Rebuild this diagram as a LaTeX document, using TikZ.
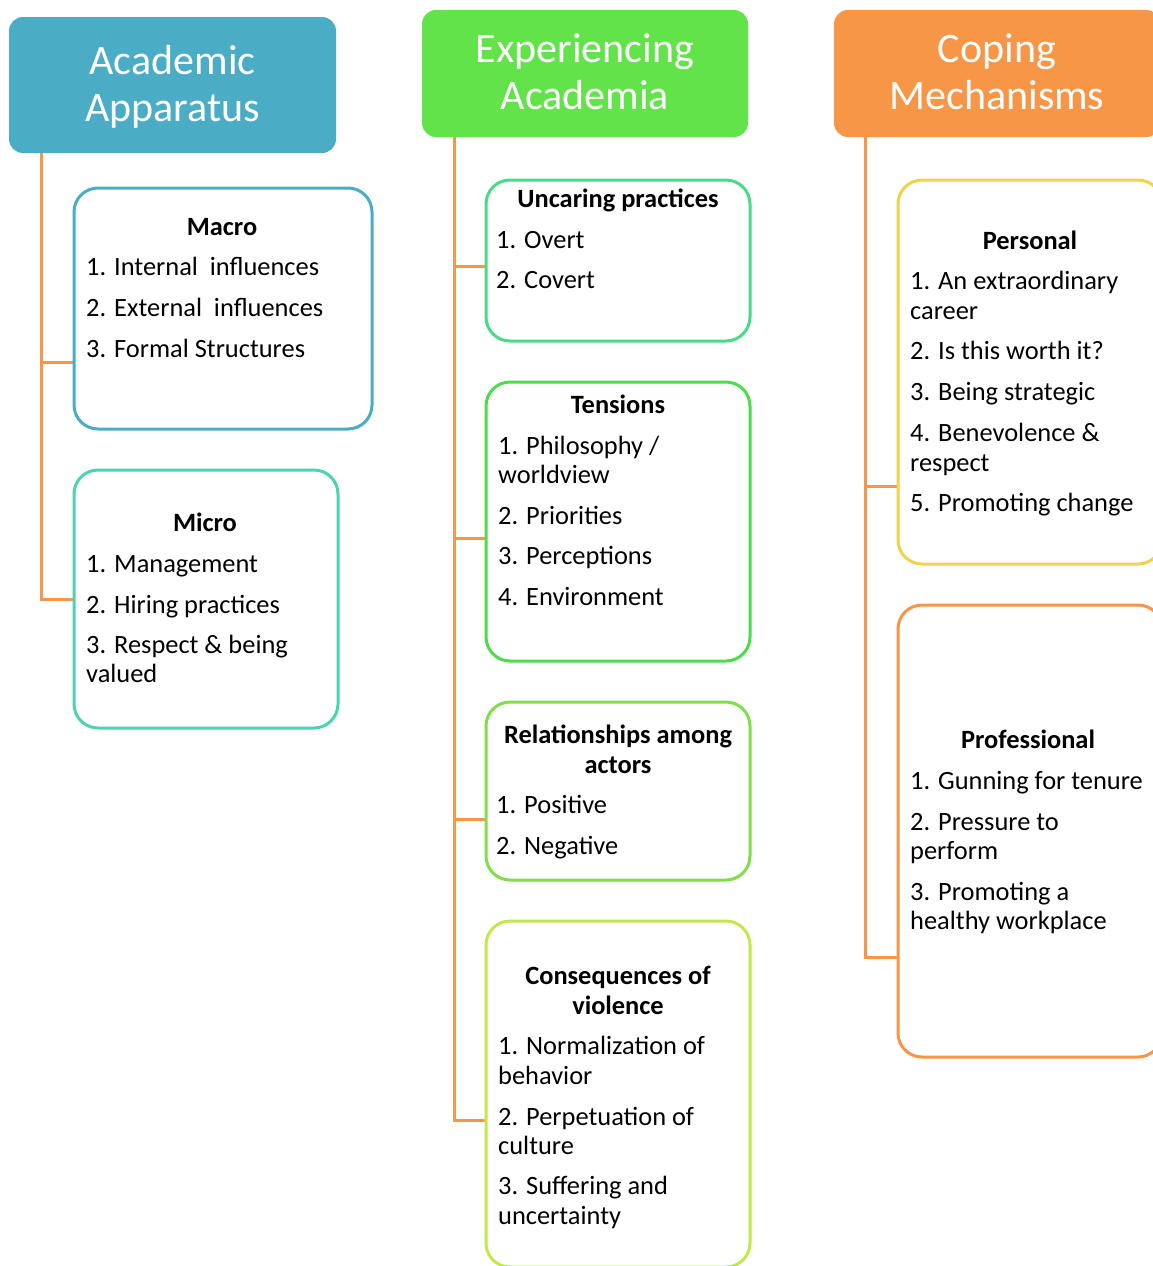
\documentclass[tikz,border=0pt]{standalone}
\usepackage{fontspec}
\setmainfont{Carlito}
\definecolor{cA}{HTML}{4BACC6}
\definecolor{cE}{HTML}{62E34A}
\definecolor{cC}{HTML}{F79646}
\definecolor{cMic}{HTML}{4BD3B4}
\definecolor{cUnc}{HTML}{4BD98A}
\definecolor{cTen}{HTML}{4BDD4B}
\definecolor{cRel}{HTML}{82DD4B}
\definecolor{cCon}{HTML}{C3E84B}
\definecolor{cPer}{HTML}{F2D24B}
\tikzset{
 conn/.style={draw=cC, line width=3pt},
 hdr/.style={rounded corners=14pt, inner sep=0, draw=none},
 box/.style={rounded corners=24pt, line width=3pt, fill=white, inner sep=0},
 hdrtxt/.style={anchor=base, inner sep=0, text=white, font=\fontsize{42}{47}\selectfont},
 ttl/.style={anchor=base, inner sep=0, font=\fontsize{26.4}{29}\selectfont\bfseries},
 itm/.style={anchor=base west, inner sep=0, font=\fontsize{26.4}{29}\selectfont},
}
\begin{document}
\begin{tikzpicture}[x=1pt,y=-1pt]
\useasboundingbox (0,0) rectangle (1153,1266);
\clip (0,0) rectangle (1153,1266);
\fill[white] (0,0) rectangle (1153,1266);

% headers
\node[hdr, fill=cA, minimum width=327pt, minimum height=136pt] (hA) at (172.5,85) {};
\node[hdr, fill=cE, minimum width=326pt, minimum height=127pt] (hE) at (585,73.5) {};
\node[hdr, fill=cC, minimum width=326pt, minimum height=127pt] (hC) at (997,73.5) {};
\node[hdrtxt] (hA1) at (172.5,74) {Academic};
\node[hdrtxt] (hA2) at (172.5,121) {Apparatus};
\node[hdrtxt] (hE1) at (585,62) {Experiencing};
\node[hdrtxt] (hE2) at (585,109) {Academia};
\node[hdrtxt] (hC1) at (997,62) {Coping};
\node[hdrtxt] (hC2) at (997,109) {Mechanisms};

% connector coordinates
\coordinate (tA) at (41,153);
\coordinate (bMacro) at (74,362);
\coordinate (bMicro) at (74,599);
\coordinate (tE) at (454,137);
\coordinate (bUnc) at (486,266);
\coordinate (bTen) at (486,538);
\coordinate (bRel) at (486,819);
\coordinate (bCon) at (486,1120);
\coordinate (tC) at (865,137);
\coordinate (bPer) at (898,486);
\coordinate (bPro) at (898,957);

\draw[conn] (tA) |- (bMicro);
\draw[conn] (tA |- bMacro) -- (bMacro);
\draw[conn] (tE) |- (bCon);
\draw[conn] (tE |- bUnc) -- (bUnc);
\draw[conn] (tE |- bTen) -- (bTen);
\draw[conn] (tE |- bRel) -- (bRel);
\draw[conn] (tC) |- (bPro);
\draw[conn] (tC |- bPer) -- (bPer);

% boxes
\node[box, draw=cA, minimum width=298pt, minimum height=241pt] (macro) at (223,308.5) {};
\node[box, draw=cMic, minimum width=264pt, minimum height=258pt] (micro) at (206,599) {};
\node[box, draw=cUnc, minimum width=264pt, minimum height=161pt] (unc) at (618,260.5) {};
\node[box, draw=cTen, minimum width=264pt, minimum height=279pt] (ten) at (618,521.5) {};
\node[box, draw=cRel, minimum width=264pt, minimum height=178pt] (rel) at (618,791) {};
\node[box, draw=cCon, minimum width=264pt, minimum height=346pt] (con) at (618,1094) {};
\node[box, draw=cPer, minimum width=264pt, minimum height=384pt] (per) at (1030,372) {};
\node[box, draw=cC, minimum width=264pt, minimum height=452pt] (pro) at (1030,831) {};

% Macro
\node[ttl] (macroT) at (222,235) {Macro};
\node[itm] (macro1) at (86,275) {1. Internal~~influences};
\node[itm] (macro2) at (86,316) {2. External~~influences};
\node[itm] (macro3) at (86,357) {3. Formal Structures};
% Micro
\node[ttl] (microT) at (205,531) {Micro};
\node[itm] (micro1) at (86,572) {1. Management};
\node[itm] (micro2) at (86,613) {2. Hiring practices};
\node[itm] (micro3) at (86,653) {3. Respect \& being};
\node[itm] (micro3b) at (86,682) {valued};
% Uncaring
\node[ttl] (uncT) at (618,207) {Uncaring practices};
\node[itm] (unc1) at (496,248) {1. Overt};
\node[itm] (unc2) at (496,288) {2. Covert};
% Tensions
\node[ttl] (tenT) at (618,413) {Tensions};
\node[itm] (ten1) at (498,454) {1. Philosophy /};
\node[itm] (ten1b) at (498,483) {worldview};
\node[itm] (ten2) at (498,524) {2. Priorities};
\node[itm] (ten3) at (498,564) {3. Perceptions};
\node[itm] (ten4) at (498,605) {4. Environment};
% Relationships
\node[ttl] (relT1) at (618,743) {Relationships among};
\node[ttl] (relT2) at (618,773) {actors};
\node[itm] (rel1) at (496,813) {1. Positive};
\node[itm] (rel2) at (496,854) {2. Negative};
% Consequences
\node[ttl] (conT1) at (618,984) {Consequences of};
\node[ttl] (conT2) at (618,1014) {violence};
\node[itm] (con1) at (498,1054) {1. Normalization of};
\node[itm] (con1b) at (498,1084) {behavior};
\node[itm] (con2) at (498,1125) {2. Perpetuation of};
\node[itm] (con2b) at (498,1154) {culture};
\node[itm] (con3) at (498,1194) {3. Suffering and};
\node[itm] (con3b) at (498,1224) {uncertainty};
% Personal
\node[ttl] (perT) at (1030,249) {Personal};
\node[itm] (per1) at (910,289) {1. An extraordinary};
\node[itm] (per1b) at (910,319) {career};
\node[itm] (per2) at (910,359) {2. Is this worth it?};
\node[itm] (per3) at (910,400) {3. Being strategic};
\node[itm] (per4) at (910,441) {4. Benevolence \&};
\node[itm] (per4b) at (910,471) {respect};
\node[itm] (per5) at (910,511) {5. Promoting change};
% Professional
\node[ttl] (proT) at (1028,748) {Professional};
\node[itm] (pro1) at (910,789) {1. Gunning for tenure};
\node[itm] (pro2) at (910,830) {2. Pressure to};
\node[itm] (pro2b) at (910,859) {perform};
\node[itm] (pro3) at (910,900) {3. Promoting a};
\node[itm] (pro3b) at (910,929) {healthy workplace};
\end{tikzpicture}
\end{document}
